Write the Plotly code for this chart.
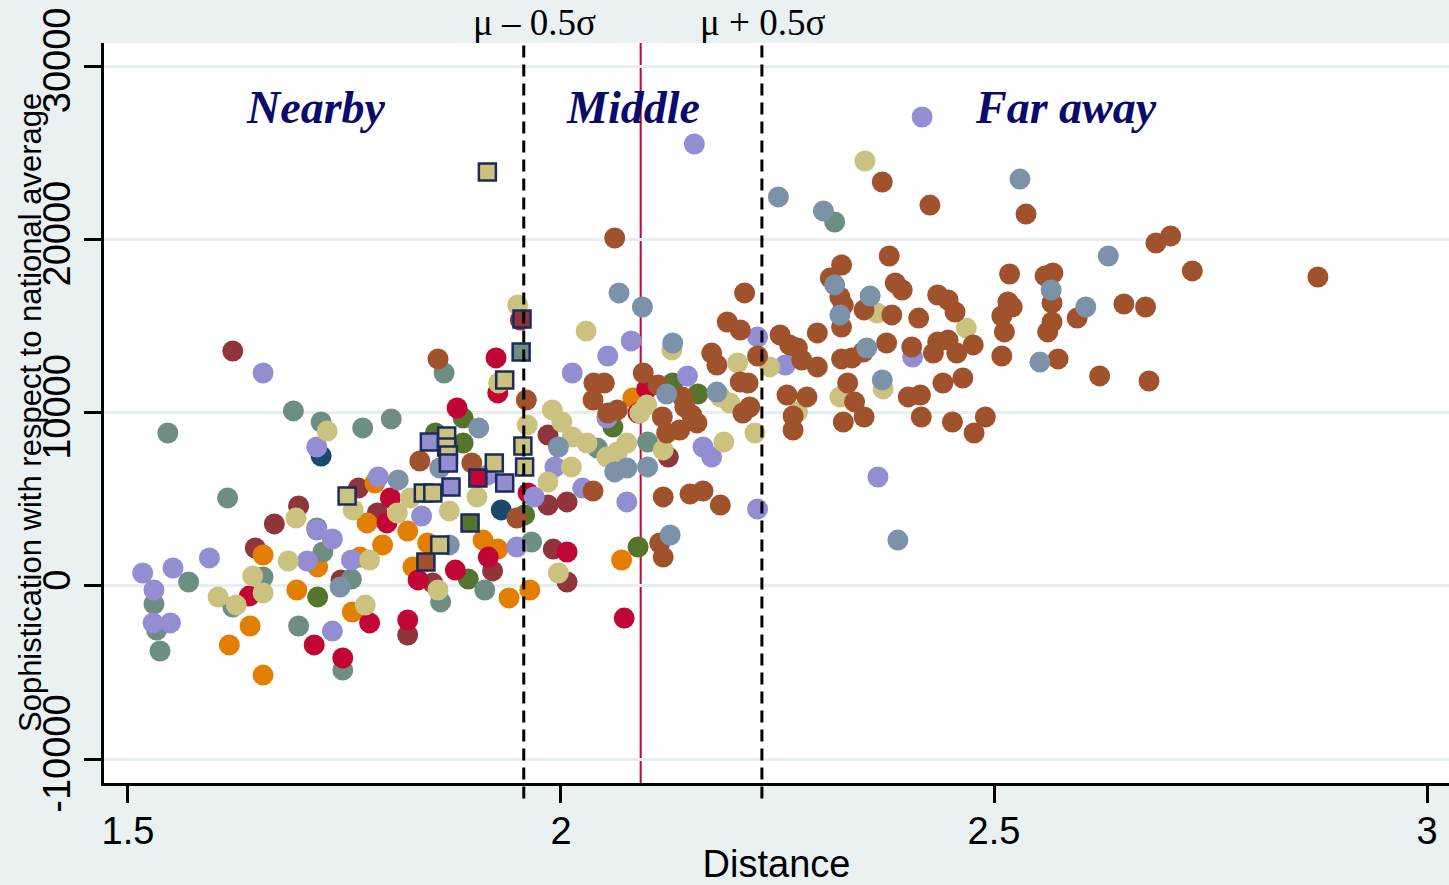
import plotly.graph_objects as go

# ---------------- data (Distance, Sophistication) by group ----------------
navy_x = [1.723, 1.931]
navy_y = [7500, 4390]

maroon_x = [1.621, 1.647, 1.669, 1.697, 1.746, 1.766, 1.788, 1.823, 1.852, 1.921, 1.985, 1.985, 2.007, 1.991, 2.007, 2.124, 1.953]
maroon_y = [13560, 2190, 3580, 4620, 350, 5650, 4210, -2830, 170, 870, 8710, 4670, 4850, 2130, 230, 7440, 15350]

green_x = [1.719, 1.855, 1.887, 1.887, 1.893, 1.958, 2.060, 2.089, 2.129, 2.158]
green_y = [-630, 8830, 9690, 8250, 400, 4100, 9170, 2250, 11710, 11080]

orange_x = [1.617, 1.641, 1.656, 1.656, 1.695, 1.719, 1.759, 1.768, 1.776, 1.785, 1.794, 1.823, 1.829, 1.846, 1.910, 1.927, 1.940, 1.964, 2.070, 2.083]
orange_y = [-3400, -2310, -5140, 1790, -230, 1100, -1500, 1670, 3640, 5940, 2370, 3170, 1100, 2480, 2650, 2130, -690, -230, 1500, 10850]

teal_x = [1.546, 1.691, 1.723, 1.771, 1.804, 1.865, 1.615, 1.530, 1.533, 1.537, 1.570, 1.621, 1.656, 1.697, 1.718, 1.725, 1.748, 1.758, 1.861, 1.912, 1.966, 2.042, 2.100, 2.316]
teal_y = [8830, 10100, 9460, 9120, 9640, 12290, 5080, -1040, -2540, -3750, 230, -1210, 520, -2310, 3350, 1960, -4850, 400, -920, -230, 2540, 7960, 8310, 21000]

cranberry_x = [1.640, 1.715, 1.748, 1.779, 1.799, 1.803, 1.823, 1.835, 1.878, 1.916, 1.880, 1.925, 1.927, 1.962, 2.007, 2.073, 2.099, 2.089]
cranberry_y = [-580, -3400, -4150, -2130, 3640, 5080, -1960, 350, 920, 1670, 10270, 13160, 11140, 5370, 1960, -1850, 11370, 9980]

lavender_x = [1.517, 1.530, 1.529, 1.549, 1.552, 1.594, 1.656, 1.718, 1.718, 1.736, 1.707, 1.736, 1.758, 1.789, 1.839, 1.949, 1.969, 1.993, 2.013, 2.054, 2.081, 2.154, 2.025, 2.076, 2.053, 2.146, 2.164, 2.174, 2.227, 2.259, 2.227, 2.417, 2.406, 2.366, 1.915]
lavender_y = [750, -230, -2130, -2130, 1040, 1620, 12290, 8020, 3230, 2710, 1440, -2600, 1500, 6290, 4040, 2250, 5140, 6870, 12290, 13270, 14140, 25500, 5650, 4850, 9690, 12120, 8020, 7440, 14370, 12750, 4440, 27060, 13210, 6290, 6400]

khaki_x = [1.604, 1.625, 1.644, 1.656, 1.685, 1.694, 1.730, 1.760, 1.774, 1.779, 1.811, 1.826, 1.858, 1.871, 1.903, 1.928, 1.950, 1.961, 1.990, 2.001, 2.013, 2.030, 1.985, 2.012, 1.997, 2.029, 2.053, 2.065, 2.076, 2.099, 2.091, 2.118, 2.128, 2.184, 2.195, 2.188, 2.204, 2.224, 2.241, 2.273, 2.322, 2.365, 2.372, 2.351, 2.468]
khaki_y = [-630, -1100, 580, -400, 1440, 3920, 8940, 4390, -1100, 1500, 4210, 5080, -230, 4330, 5140, 11710, 16210, 9290, 10160, 9460, 8600, 8250, 6000, 6870, 750, 14710, 7440, 7730, 8250, 10440, 9980, 7850, 13620, 10910, 10560, 8310, 12870, 8830, 12640, 10040, 10910, 15750, 11370, 24520, 14890]

sienna_x = [2.062, 1.858, 1.960, 1.837, 1.897, 1.949, 2.038, 2.050, 2.037, 2.054, 2.065, 2.095, 2.112, 2.140, 2.143, 2.117, 2.122, 2.137, 2.157, 2.151,
            2.037, 2.118, 2.149, 2.164, 2.184, 2.114, 2.118, 2.212, 2.192, 2.207, 2.174, 2.180, 2.227, 2.207, 2.216, 2.218, 2.210, 2.253, 2.264, 2.261,
            2.268, 2.268, 2.284, 2.273, 2.278, 2.296, 2.296, 2.324, 2.311, 2.322, 2.326, 2.324, 2.379, 2.386, 2.394, 2.350, 2.382, 2.349, 2.336, 2.324,
            2.376, 2.405, 2.413, 2.435, 2.447, 2.455, 2.476, 2.457, 2.447, 2.435, 2.430, 2.509, 2.516, 2.521, 2.509, 2.512, 2.518, 2.559, 2.568, 2.567,
            2.567, 2.562, 2.596, 2.650, 2.675, 2.574, 2.622, 2.679, 2.687, 2.704, 2.729, 2.874, 2.371, 2.426, 2.537, 2.331, 2.339, 2.350, 2.326, 2.401,
            2.415, 2.416, 2.441, 2.464, 2.452, 2.490, 2.477]
sienna_y = [20080, 13100, 10730, 7210, 7100, 3920, 11710, 11710, 10730, 9980, 10160, 12290, 11600, 10910, 10330, 9750, 8830, 9000, 9410, 9870,
            5480, 5140, 5310, 5480, 4670, 2480, 1670, 16910, 15230, 14770, 13440, 12750, 13270, 11770, 11710, 10330, 9980, 14480, 13910, 11020,
            9810, 9000, 10910, 13730, 13040, 14600, 12640, 18520, 17770, 16680, 16210, 14940, 19040, 17480, 17080, 15930, 15640, 13500, 13160, 13100,
            14020, 13790, 15460, 16790, 16500, 15810, 13910, 13440, 14190, 14080, 13440, 13270, 16390, 16100, 15580, 14660, 18000, 17890, 18060, 16330,
            15230, 14660, 15460, 16270, 16100, 13100, 12120, 11830, 19790, 20200, 18180, 17830, 23310, 21980, 21460, 11710, 10620, 9750, 9460, 10910,
            11020, 9750, 11710, 12000, 9460, 9750, 8830]

emidblue_x = [2.067, 2.094, 2.129, 2.122, 2.180, 2.100, 2.062, 2.076, 2.126, 1.997, 1.905, 1.812, 1.860, 1.871, 1.745, 2.251, 2.303, 2.316, 2.357, 2.322, 2.353, 2.371, 2.530, 2.566, 2.553, 2.606, 2.632, 2.389]
emidblue_y = [16910, 16100, 14020, 11080, 11190, 6870, 6580, 6810, 2940, 8020, 9120, 6120, 6810, 2370, -60, 22450, 21640, 17370, 16730, 15640, 13730, 11890, 23480, 17080, 12920, 16100, 19040, 2650]

# highlighted observations (square markers), with their group colour
hl_x = [1.915, 1.955, 1.954, 1.935, 1.956, 1.958, 1.935, 1.848, 1.868, 1.868, 1.870, 1.870, 1.923, 1.904, 1.873, 1.841, 1.852, 1.895, 1.844, 1.860, 1.753]
hl_y = [23890, 15410, 13500, 11890, 8080, 6870, 5940, 8310, 8660, 8020, 7560, 7100, 7100, 6230, 5710, 5370, 5370, 3640, 1380, 2370, 5190]
hl_group = ["khaki", "maroon", "teal", "khaki", "khaki", "khaki", "lavender", "lavender", "khaki", "khaki", "khaki", "lavender", "khaki",
            "cranberry", "lavender", "khaki", "khaki", "green", "sienna", "khaki", "khaki"]

# reference values
mu = 2.092
band = [1.957, 2.232]          # mu - 0.5 sigma, mu + 0.5 sigma
band_labels = ["μ – 0.5σ", "μ + 0.5σ"]
zone_labels = ["Nearby", "Middle", "Far away"]
zone_x = [1.717, 2.083, 2.583]

x_ticks = [1.5, 2, 2.5, 3]
x_ticktext = ["1.5", "2", "2.5", "3"]
y_ticks = [-10000, 0, 10000, 20000, 30000]
y_ticktext = ["-10000", "0", "10000", "20000", "30000"]
y_title = "Sophistication with respect to national average"
x_title = "Distance"

colors = {
    "navy": "#1a476f", "maroon": "#90353b", "green": "#55752f", "orange": "#e37e00",
    "teal": "#6e8e84", "cranberry": "#c10534", "lavender": "#938dd2", "khaki": "#cac27e",
    "sienna": "#a0522d", "emidblue": "#7b92a8",
}

groups = [
    ("navy", navy_x, navy_y), ("maroon", maroon_x, maroon_y), ("green", green_x, green_y),
    ("orange", orange_x, orange_y), ("teal", teal_x, teal_y), ("cranberry", cranberry_x, cranberry_y),
    ("lavender", lavender_x, lavender_y), ("khaki", khaki_x, khaki_y), ("sienna", sienna_x, sienna_y),
    ("emidblue", emidblue_x, emidblue_y),
]

fig = go.Figure()
for name, xs, ys in groups:
    fig.add_trace(go.Scatter(x=xs, y=ys, mode="markers", name=name,
                             marker=dict(symbol="circle", size=21, color=colors[name], line=dict(width=0))))

hl_colors = [colors[g] for g in hl_group]
fig.add_trace(go.Scatter(x=hl_x, y=hl_y, mode="markers", name="highlight-c",
                         marker=dict(symbol="circle", size=19, color=hl_colors, line=dict(width=0))))
fig.add_trace(go.Scatter(x=hl_x, y=hl_y, mode="markers", name="highlight",
                         marker=dict(symbol="square", size=17, color=hl_colors,
                                     line=dict(width=2.5, color="#1c2b5c"))))

# reference lines
fig.add_shape(type="line", xref="paper", yref="y", x0=0, x1=1, y0=0, y1=0,
              line=dict(color="#c10534", width=2), layer="below")
fig.add_shape(type="line", xref="x", yref="paper", x0=mu, x1=mu, y0=0, y1=1,
              line=dict(color="#c10534", width=2), layer="below")
for b in band:
    fig.add_shape(type="line", xref="x", yref="paper", x0=b, x1=b, y0=-0.021, y1=1.004,
                  line=dict(color="black", width=3, dash="12px,7px"), layer="above")

serif = "Liberation Serif, Times New Roman, serif"
sans = "Liberation Sans, Arial, Helvetica, sans-serif"
for lab, b, sh in zip(band_labels, band, [11, 1]):
    fig.add_annotation(x=b, y=1.028, xref="x", yref="paper", text=lab, showarrow=False,
                       xshift=sh, font=dict(family=serif, size=37, color="black"), yanchor="middle")
for lab, zx in zip(zone_labels, zone_x):
    fig.add_annotation(x=zx, y=27600, xref="x", yref="y", text="<b><i>" + lab + "</i></b>", showarrow=False,
                       font=dict(family=serif, size=46, color="#0b0b6b"), yanchor="middle")

# y-axis title placed as rotated text left of the tick labels
fig.add_annotation(x=-0.055, y=0.5, xref="paper", yref="paper", text=y_title, textangle=-90,
                   showarrow=False, xanchor="center", yanchor="middle",
                   font=dict(family=sans, size=31, color="black"))

fig.update_layout(
    width=1449, height=885, autosize=False,
    paper_bgcolor="#e9f1f3", plot_bgcolor="white",
    margin=dict(l=104, r=0, t=43, b=102),
    showlegend=False,
    font=dict(family=sans, color="black"),
    xaxis=dict(range=[1.4723, 3.0254], tickvals=x_ticks, ticktext=x_ticktext,
               ticks="outside", ticklen=17, tickwidth=2.5, tickcolor="black",
               showline=True, linecolor="black", linewidth=3, showgrid=False, zeroline=False,
               tickfont=dict(size=38, family=sans), ticklabelstandoff=-5,
               title=dict(text=x_title, font=dict(size=38, family=sans), standoff=0)),
    yaxis=dict(range=[-11367, 31330], tickvals=y_ticks, ticktext=y_ticktext, tickangle=-90,
               ticks="outside", ticklen=17, tickwidth=2.5, tickcolor="black",
               showline=True, linecolor="black", linewidth=2.5, showgrid=True,
               gridcolor="#e6eef0", gridwidth=3, zeroline=False,
               tickfont=dict(size=38, family=sans), ticklabelstandoff=-1),
)

fig.write_html("out.html", config={"displayModeBar": False},
               post_script="document.body.style.margin='0';document.body.style.overflow='hidden';")
